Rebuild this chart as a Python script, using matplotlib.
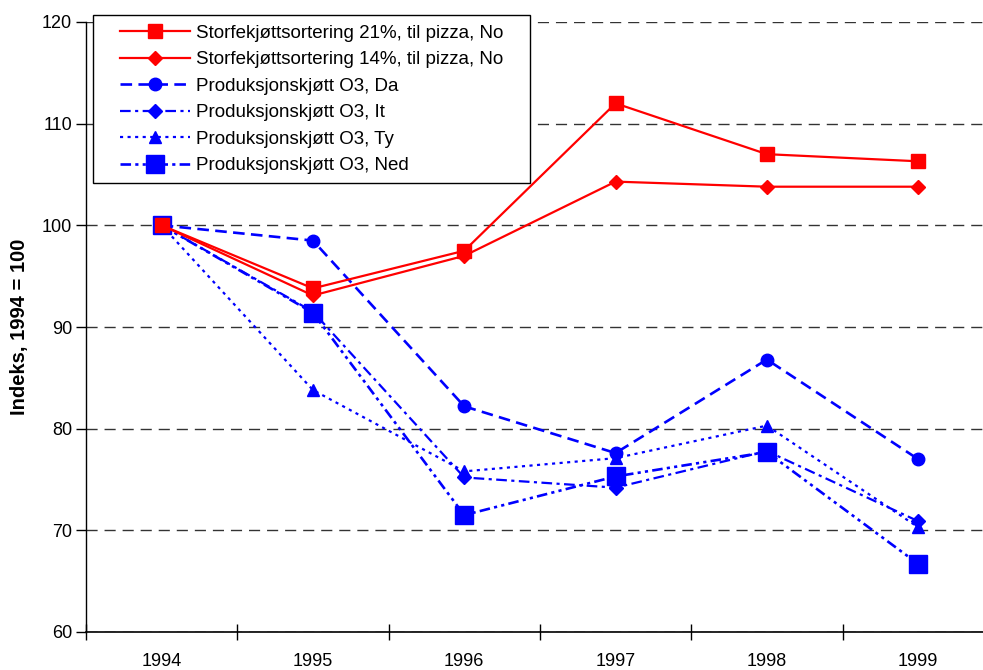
import matplotlib
matplotlib.use("Agg")
import matplotlib.pyplot as plt
from matplotlib.ticker import FixedLocator, NullFormatter, FixedFormatter
from matplotlib.patches import Rectangle

plt.rcParams['font.family'] = ['Liberation Sans', 'DejaVu Sans']

years = ["1994", "1995", "1996", "1997", "1998", "1999"]
s21_no = [100, 93.8, 97.5, 112.0, 107.0, 106.3]
s14_no = [100, 93.1, 97.0, 104.3, 103.8, 103.8]
o3_da = [100, 98.5, 82.2, 77.6, 86.8, 77.0]
o3_it = [100, 91.5, 75.2, 74.2, 77.8, 70.9]
o3_ty = [100, 83.8, 75.8, 77.1, 80.3, 70.3]
o3_ned = [100, 91.4, 71.5, 75.3, 77.7, 66.7]

labels = [
    "Storfekjøttsortering 21%, til pizza, No",
    "Storfekjøttsortering 14%, til pizza, No",
    "Produksjonskjøtt O3, Da",
    "Produksjonskjøtt O3, It",
    "Produksjonskjøtt O3, Ty",
    "Produksjonskjøtt O3, Ned",
]

W, H = 983, 670
fig = plt.figure(figsize=(W / 100, H / 100), dpi=100)
left, right, top, bottom = 86, 983, 22, 632
ax = fig.add_axes([left / W, 1 - bottom / H, (right - left) / W, (bottom - top) / H])

x = list(range(len(years)))
red = "#ff0000"
blue = "#0000ff"

ax.plot(x, s21_no, color=red, lw=1.6, marker="s", ms=9.5, label=labels[0], zorder=5)
ax.plot(x, s14_no, color=red, lw=1.6, marker="D", ms=7.5, label=labels[1], zorder=5)
ax.plot(x, o3_da, color=blue, lw=1.9, marker="o", ms=9, dashes=(4.4, 2.4), label=labels[2], zorder=4)
ax.plot(x, o3_it, color=blue, lw=1.6, marker="D", ms=7.5, dashes=(4.8, 2, 1.4, 2), label=labels[3], zorder=4)
ax.plot(x, o3_ty, color=blue, lw=1.6, marker="^", ms=9, dashes=(1.4, 2), label=labels[4], zorder=4)
ax.plot(x, o3_ned, color=blue, lw=1.9, marker="s", ms=13, dashes=(4, 1.6, 1.2, 1.6, 1.2, 1.6), label=labels[5], zorder=4)

ax.set_ylim(60, 120)
span = (right - left) / 151.3
ax.set_xlim(-0.5, -0.5 + span)

ax.set_yticks([60, 70, 80, 90, 100, 110, 120])
ax.tick_params(axis="y", direction="out", length=7, width=1, labelsize=13, pad=3)
ax.yaxis.grid(True, color="#333333", linestyle=(0, (8, 5)), lw=1)
ax.set_axisbelow(True)

ax.xaxis.set_major_locator(FixedLocator([-0.5, 0.5, 1.5, 2.5, 3.5, 4.5, 5.5]))
ax.xaxis.set_major_formatter(NullFormatter())
ax.xaxis.set_minor_locator(FixedLocator(x))
ax.xaxis.set_minor_formatter(FixedFormatter(years))
ax.tick_params(axis="x", which="major", direction="inout", length=12, width=1)
ax.tick_params(axis="x", which="minor", length=0, labelsize=13, pad=15)

for s in ["top", "right"]:
    ax.spines[s].set_visible(False)
ax.spines["left"].set_linewidth(1)
ax.spines["bottom"].set_linewidth(1.2)

ax.set_ylabel("Indeks, 1994 = 100", fontsize=14.5, fontweight="bold", labelpad=9)

# legend frame drawn separately (asymmetric padding like the original)
box = Rectangle((93 / W, 1 - 183 / H), (530 - 93) / W, (183 - 15) / H, transform=fig.transFigure,
                facecolor="white", edgecolor="black", lw=1, zorder=9, clip_on=False)
ax.add_patch(box)

leg = ax.legend(loc="upper left", bbox_to_anchor=(120 / W, 1 - 24.5 / H), bbox_transform=fig.transFigure,
                fontsize=13.5, frameon=False,
                handlelength=3.73, borderpad=0, labelspacing=0.5, handletextpad=0.32, borderaxespad=0)
leg.set_zorder(10)

fig.savefig("out.png", dpi=100)
